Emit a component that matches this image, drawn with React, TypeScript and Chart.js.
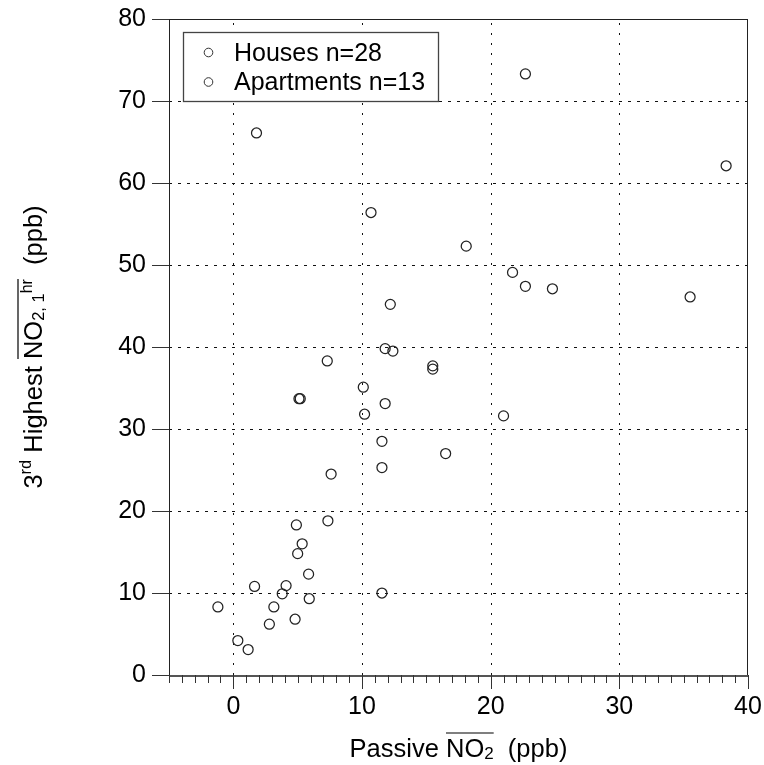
import { useEffect, useRef } from "react";
import { Chart, registerables } from "chart.js";

Chart.register(...registerables);

// Passive NO2 (ppb) vs 3rd highest 1-hr NO2 (ppb)
const houseX = [22.7, 1.8, 38.3, 10.7, 18.1, 21.7, 24.8, 35.5, 12.2, 11.8, 7.3, 15.5, 10.1, 5.1, 11.8, 21.0, 11.55, 16.5, 7.6, 7.35, 5.35, 5.85, 4.1, 11.55, -1.2, 2.8, 0.35, 1.15];
const houseY = [73.3, 66.1, 62.1, 56.4, 52.3, 49.1, 47.1, 46.1, 45.2, 39.8, 38.3, 37.7, 35.1, 33.7, 33.1, 31.6, 28.5, 27.0, 24.5, 18.8, 16.0, 12.3, 10.9, 10.0, 8.3, 6.2, 4.2, 3.1];
const aptX = [22.7, 12.4, 15.5, 5.2, 10.2, 11.55, 4.9, 5.0, 1.65, 3.8, 5.9, 3.15, 4.8];
const aptY = [47.4, 39.5, 37.3, 33.7, 31.8, 25.3, 18.3, 14.8, 10.8, 9.9, 9.3, 8.3, 6.8];

const xMin = -5;
const xMax = 40;
const yMin = 0;
const yMax = 80;
const xMajorStep = 10;
const yMajorStep = 10;
const legendLabels = ["Houses n=28", "Apartments n=13"];

const FONT = "'Liberation Sans', Arial, sans-serif";

type Seg = { t: string; size: number; dy?: number; over?: boolean };

// Draws a run of text pieces (sub/superscripts, overline) centred at (cx, baseline)
function drawRich(ctx: CanvasRenderingContext2D, segs: Seg[], cx: number, baseline: number) {
  let total = 0;
  for (const s of segs) {
    ctx.font = `${s.size}px ${FONT}`;
    total += ctx.measureText(s.t).width;
  }
  let x = cx - total / 2;
  let olStart = NaN;
  let olEnd = NaN;
  ctx.textAlign = "left";
  ctx.textBaseline = "alphabetic";
  for (const s of segs) {
    ctx.font = `${s.size}px ${FONT}`;
    const w = ctx.measureText(s.t).width;
    ctx.fillText(s.t, x, baseline + (s.dy || 0));
    if (s.over) {
      if (isNaN(olStart)) olStart = x;
      olEnd = x + w;
    }
    x += w;
  }
  if (!isNaN(olStart)) {
    ctx.beginPath();
    ctx.lineWidth = 1.2;
    ctx.moveTo(olStart, baseline - 23.5);
    ctx.lineTo(olEnd, baseline - 23.5);
    ctx.stroke();
  }
}

const framePlugin = {
  id: "frame",
  beforeDatasetsDraw(chart: any) {
    const { ctx, chartArea: a, scales } = chart;
    const xs = scales.x;
    const ys = scales.y;
    ctx.save();
    ctx.strokeStyle = "#111";
    ctx.lineWidth = 1;
    // vertical dotted grid
    ctx.setLineDash([2, 8]);
    for (let v = 0; v < xMax; v += xMajorStep) {
      const px = Math.round(xs.getPixelForValue(v)) + 0.5;
      ctx.beginPath();
      ctx.moveTo(px, a.bottom);
      ctx.lineTo(px, a.top);
      ctx.stroke();
    }
    // horizontal dashed grid
    ctx.setLineDash([3, 6]);
    for (let v = yMin + yMajorStep; v < yMax; v += yMajorStep) {
      const py = Math.round(ys.getPixelForValue(v)) + 0.5;
      ctx.beginPath();
      ctx.moveTo(a.left, py);
      ctx.lineTo(a.right, py);
      ctx.stroke();
    }
    ctx.restore();
  },
  afterDatasetsDraw(chart: any) {
    const { ctx, chartArea: a, scales } = chart;
    const xs = scales.x;
    const ys = scales.y;
    ctx.save();
    ctx.setLineDash([]);

    // plot frame
    ctx.strokeStyle = "#222";
    ctx.lineWidth = 1;
    ctx.strokeRect(Math.round(a.left) + 0.5, Math.round(a.top) + 0.5, Math.round(a.right - a.left) - 1, Math.round(a.bottom - a.top));
    ctx.strokeStyle = "#555";
    ctx.lineWidth = 2;
    ctx.beginPath();
    ctx.moveTo(a.left, Math.round(a.bottom) + 1);
    ctx.lineTo(a.right, Math.round(a.bottom) + 1);
    ctx.stroke();

    // x tick marks: minor every unit, major every 10
    ctx.strokeStyle = "#333";
    ctx.lineWidth = 1;
    for (let v = xMin; v <= xMax; v += 1) {
      const px = Math.round(xs.getPixelForValue(v)) + 0.5;
      const len = v % xMajorStep === 0 ? 14 : 8;
      ctx.beginPath();
      ctx.moveTo(px, a.bottom);
      ctx.lineTo(px, a.bottom + len);
      ctx.stroke();
    }
    // y tick marks
    for (let v = yMin; v <= yMax; v += yMajorStep) {
      const py = Math.round(ys.getPixelForValue(v)) + 0.5;
      ctx.beginPath();
      ctx.moveTo(a.left - 17, py);
      ctx.lineTo(a.left, py);
      ctx.stroke();
    }

    // legend
    const lx = a.left + 14;
    const ly = a.top + 13;
    ctx.font = `25px ${FONT}`;
    const tw = Math.max(...legendLabels.map((s) => ctx.measureText(s).width));
    const lw = 51 + tw + 13;
    const lh = 69;
    ctx.fillStyle = "#fff";
    ctx.fillRect(lx, ly, lw, lh);
    ctx.strokeStyle = "#444";
    ctx.lineWidth = 1.3;
    ctx.strokeRect(Math.round(lx) + 0.5, Math.round(ly) + 0.5, Math.round(lw), Math.round(lh));
    ctx.fillStyle = "#000";
    ctx.textAlign = "left";
    ctx.textBaseline = "alphabetic";
    legendLabels.forEach((label, i) => {
      const rowY = ly + 20.5 + i * 29.5;
      ctx.beginPath();
      ctx.strokeStyle = "#333";
      ctx.lineWidth = 1;
      ctx.arc(lx + 25.5, rowY, 4.3, 0, Math.PI * 2);
      ctx.stroke();
      ctx.fillText(label, lx + 51, rowY + 8);
    });

    // axis titles
    ctx.fillStyle = "#000";
    ctx.strokeStyle = "#000";
    const cxPlot = (a.left + a.right) / 2;
    drawRich(
      ctx,
      [
        { t: "Passive ", size: 25.5 },
        { t: "NO", size: 25.5, over: true },
        { t: "2", size: 17, dy: 2, over: true },
        { t: "  (ppb)", size: 25.5 },
      ],
      cxPlot,
      756.5
    );
    const cyPlot = (a.top + a.bottom) / 2;
    ctx.save();
    ctx.translate(41.5, cyPlot);
    ctx.rotate(-Math.PI / 2);
    drawRich(
      ctx,
      [
        { t: "3", size: 25.5 },
        { t: "rd", size: 16.5, dy: -11 },
        { t: " Highest ", size: 25.5 },
        { t: "NO", size: 25.5, over: true },
        { t: "2, 1", size: 16.5, dy: 2, over: true },
        { t: "hr", size: 16, dy: -9.5, over: true },
        { t: "  (ppb)", size: 25.5 },
      ],
      0,
      0
    );
    ctx.restore();
    ctx.restore();
  },
};

export default function App() {
  const ref = useRef<HTMLCanvasElement | null>(null);

  useEffect(() => {
    if (!ref.current) return;
    const pointStyle = {
      pointStyle: "circle" as const,
      pointRadius: 5,
      pointHoverRadius: 5,
      pointBorderWidth: 1.25,
      pointBorderColor: "#222",
      pointBackgroundColor: "rgba(0,0,0,0)",
      showLine: false,
    };
    const chart = new Chart(ref.current, {
      type: "scatter",
      data: {
        datasets: [
          { label: legendLabels[0], data: houseX.map((x, i) => ({ x, y: houseY[i] })), ...pointStyle },
          { label: legendLabels[1], data: aptX.map((x, i) => ({ x, y: aptY[i] })), ...pointStyle },
        ],
      },
      options: {
        responsive: false,
        animation: false,
        devicePixelRatio: 1,
        layout: { padding: { left: 0, top: 19, right: 16, bottom: 0 } },
        plugins: { legend: { display: false }, tooltip: { enabled: false } },
        scales: {
          x: {
            type: "linear",
            min: xMin,
            max: xMax,
            grid: { display: true, drawOnChartArea: false, color: "rgba(0,0,0,0)", tickLength: 9 },
            border: { display: false },
            ticks: {
              stepSize: xMajorStep,
              autoSkip: false,
              maxRotation: 0,
              padding: 8,
              color: "#000",
              font: { family: FONT, size: 25 },
              callback: (v: any) => (Number(v) % xMajorStep === 0 ? String(v) : ""),
            },
            afterFit: (scale: any) => {
              scale.height = 90;
              scale.paddingLeft = 0;
              scale.paddingRight = 0;
            },
          },
          y: {
            type: "linear",
            min: yMin,
            max: yMax,
            grid: { display: true, drawOnChartArea: false, color: "rgba(0,0,0,0)", tickLength: 17 },
            border: { display: false },
            ticks: {
              stepSize: yMajorStep,
              autoSkip: false,
              padding: 6,
              color: "#000",
              font: { family: FONT, size: 25 },
            },
            afterFit: (scale: any) => {
              scale.width = 169;
              scale.paddingTop = 0;
              scale.paddingBottom = 0;
            },
          },
        },
      },
      plugins: [framePlugin],
    });
    return () => chart.destroy();
  }, []);

  return (
    <div style={{ position: "fixed", left: 0, top: 0, width: 764, height: 765, background: "#fff" }}>
      <canvas ref={ref} width={764} height={765} style={{ display: "block", width: 764, height: 765 }} />
    </div>
  );
}
